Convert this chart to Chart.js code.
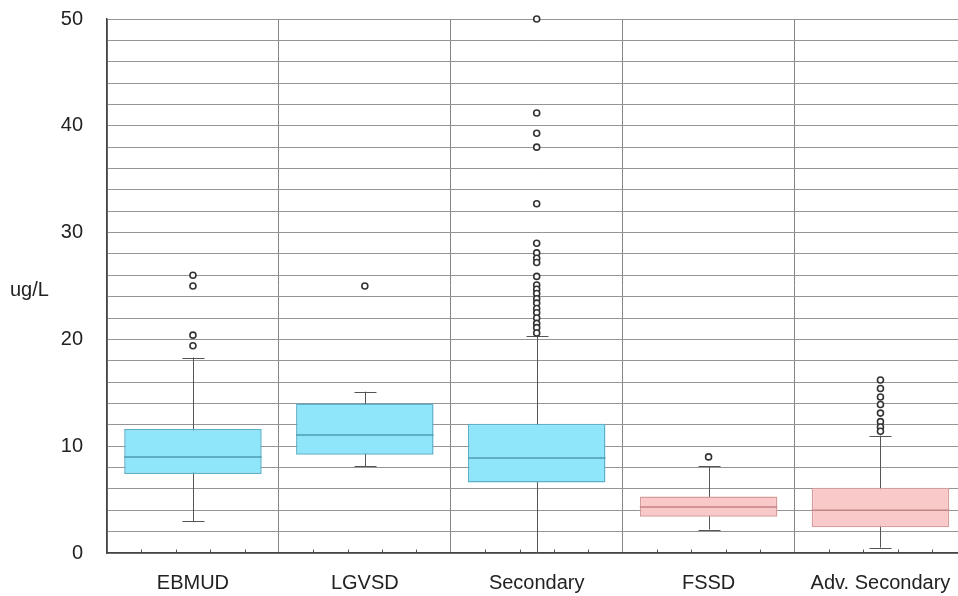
<!DOCTYPE html>
<html>
<head>
<meta charset="utf-8">
<script src="https://cdn.jsdelivr.net/npm/chart.js@4.4.1/dist/chart.umd.min.js"></script>
<style>
  html, body { margin: 0; padding: 0; background: #fff; overflow: hidden; }
  #wrap { width: 958px; height: 596px; overflow: hidden; }
  #boxChart { display: block; }
</style>
</head>
<body>
<div id="wrap">
  <canvas id="boxChart" width="972" height="596"></canvas>
</div>
<script>
// Sample groups
const categories = ["EBMUD", "LGVSD", "Secondary", "FSSD", "Adv. Secondary"];

// Box statistics (ug/L)
const lowerQuartile = [7.4, 9.2, 6.6, 3.4, 2.4];
const upperQuartile = [11.6, 14.0, 12.1, 5.3, 6.1];
const medians = [9.0, 11.05, 8.9, 4.3, 4.0];
const whiskerLow = [3.0, 8.1, 0.0, 2.2, 0.5];
const whiskerHigh = [18.3, 15.1, 20.3, 8.1, 11.0];

// Outlying samples per group
const outliersEBMUD = [26.0, 25.0, 20.4, 19.4];
const outliersLGVSD = [25.0];
const outliersSecondary = [
  50.0, 41.2, 39.3, 38.0, 32.7, 29.0, 28.1, 27.6, 27.2, 25.9, 25.1,
  24.7, 24.3, 23.8, 23.4, 22.9, 22.5, 22.0, 21.5, 21.1, 20.6,
];
const outliersFSSD = [9.0];
const outliersAdvSecondary = [16.2, 15.4, 14.6, 13.9, 13.1, 12.3, 11.8, 11.4];

const outlierGroups = [
  outliersEBMUD,
  outliersLGVSD,
  outliersSecondary,
  outliersFSSD,
  outliersAdvSecondary,
];

// Y axis range / ticks
const yMin = 0;
const yMax = 50;
const yGridStep = 2;
const yLabelStep = 10;
const yTitle = "ug/L";

// first three groups are drawn blue, the rest pink
const boxFill = ["#8fe5fa", "#8fe5fa", "#8fe5fa", "#f9c8c8", "#f9c8c8"];
const boxEdge = ["#5ab1c9", "#5ab1c9", "#5ab1c9", "#d69c9c", "#d69c9c"];
const medianColor = ["#4e9bb2", "#4e9bb2", "#4e9bb2", "#c48585", "#c48585"];

const outlierPoints = [];
outlierGroups.forEach((list, i) => {
  list.forEach((v) => outlierPoints.push({ x: categories[i], y: v }));
});

const FONT = "'Liberation Sans', Arial, sans-serif";

// whiskers behind the boxes, medians on top, plus axis decorations
const boxPlotExtras = {
  id: "boxPlotExtras",
  beforeDatasetsDraw(chart) {
    const { ctx, scales } = chart;
    const x = scales.x;
    const y = scales.y;
    ctx.save();
    ctx.strokeStyle = "#555";
    ctx.lineWidth = 1;
    categories.forEach((c, i) => {
      const cx = Math.round(x.getPixelForValue(i)) + 0.5;
      const lo = y.getPixelForValue(whiskerLow[i]);
      const hi = y.getPixelForValue(whiskerHigh[i]);
      ctx.beginPath();
      ctx.moveTo(cx, lo);
      ctx.lineTo(cx, hi);
      if (whiskerLow[i] > yMin) {
        ctx.moveTo(cx - 11, Math.round(lo) + 0.5);
        ctx.lineTo(cx + 11, Math.round(lo) + 0.5);
      }
      ctx.moveTo(cx - 11, Math.round(hi) + 0.5);
      ctx.lineTo(cx + 11, Math.round(hi) + 0.5);
      ctx.stroke();
    });
    ctx.restore();
  },
  afterDatasetsDraw(chart) {
    const { ctx, scales } = chart;
    const x = scales.x;
    const y = scales.y;
    const meta = chart.getDatasetMeta(0);
    ctx.save();
    ctx.lineWidth = 1.5;
    meta.data.forEach((bar, i) => {
      const half = bar.width / 2;
      const my = y.getPixelForValue(medians[i]);
      ctx.strokeStyle = medianColor[i];
      ctx.beginPath();
      ctx.moveTo(bar.x - half, my);
      ctx.lineTo(bar.x + half, my);
      ctx.stroke();
    });

    // minor ticks along the category axis
    const base = Math.round(y.getPixelForValue(yMin)) + 0.5;
    ctx.strokeStyle = "#555";
    ctx.lineWidth = 1;
    ctx.beginPath();
    categories.forEach((c, i) => {
      const left = x.getPixelForValue(i - 0.5);
      const right = x.getPixelForValue(i + 0.5);
      for (let k = 1; k < 5; k++) {
        const tx = Math.round(left + ((right - left) * k) / 5) + 0.5;
        ctx.moveTo(tx, base);
        ctx.lineTo(tx, base - 4);
      }
    });
    ctx.stroke();
    ctx.restore();
  },
  afterDraw(chart) {
    const { ctx, chartArea } = chart;
    ctx.save();
    ctx.font = "20px " + FONT;
    ctx.fillStyle = "#222";
    ctx.textAlign = "left";
    ctx.textBaseline = "middle";
    ctx.fillText(yTitle, 10, (chartArea.top + chartArea.bottom) / 2 + 4);
    ctx.restore();
  },
};

new Chart(document.getElementById("boxChart"), {
  type: "bar",
  data: {
    labels: categories,
    datasets: [
      {
        label: "box",
        data: categories.map((c, i) => [lowerQuartile[i], upperQuartile[i]]),
        backgroundColor: boxFill,
        borderColor: boxEdge,
        borderWidth: 1.5,
        borderSkipped: false,
        barPercentage: 0.8,
        categoryPercentage: 1,
        order: 2,
      },
      {
        type: "scatter",
        label: "outliers",
        data: outlierPoints,
        pointStyle: "circle",
        pointRadius: 3,
        pointBorderWidth: 1.6,
        pointBorderColor: "#333",
        pointBackgroundColor: "#fff",
        clip: false,
        order: 1,
      },
    ],
  },
  options: {
    responsive: false,
    animation: false,
    layout: { padding: { top: 19, left: 0, right: 0, bottom: 0 } },
    plugins: {
      legend: { display: false },
      tooltip: { enabled: false },
    },
    scales: {
      x: {
        type: "category",
        offset: true,
        afterFit: (scale) => {
          scale.height = 43;
          scale.paddingLeft = 0;
          scale.paddingRight = 0;
        },
        grid: {
          offset: true,
          color: "#858585",
          lineWidth: 1,
          drawTicks: false,
        },
        border: { display: true, color: "#444", width: 1.5 },
        ticks: {
          padding: 18,
          color: "#222",
          font: { family: FONT, size: 20 },
        },
      },
      y: {
        min: yMin,
        max: yMax,
        afterFit: (scale) => {
          scale.width = 107;
          // tick label padding would otherwise push the plot area down
          scale.paddingTop = 0;
          scale.paddingBottom = 0;
        },
        afterBuildTicks: (scale) => {
          const list = [];
          for (let v = yMin; v <= yMax; v += yGridStep) list.push({ value: v });
          scale.ticks = list;
        },
        grid: {
          color: "#959595",
          lineWidth: 1,
          drawTicks: false,
        },
        border: { display: true, color: "#444", width: 1.5 },
        ticks: {
          autoSkip: false,
          padding: 24,
          color: "#222",
          font: { family: FONT, size: 20 },
          callback: (v) => (v % yLabelStep === 0 ? v : ""),
        },
      },
    },
  },
  plugins: [boxPlotExtras],
});
</script>
</body>
</html>
